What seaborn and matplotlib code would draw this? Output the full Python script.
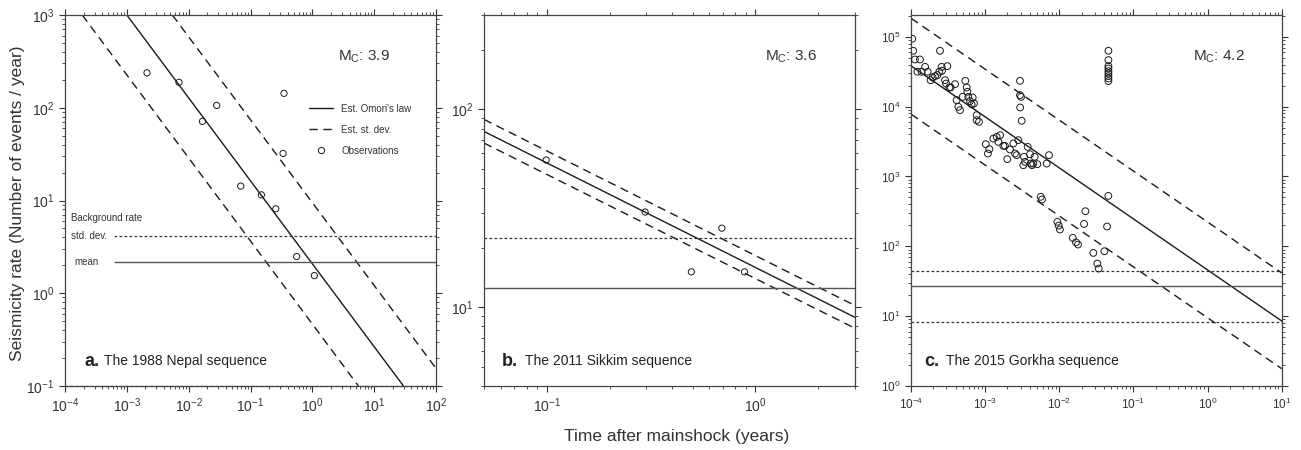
"""Omori-law decay of aftershock rates for three Himalayan sequences."""

import numpy as np
import pandas as pd
import matplotlib
matplotlib.use("Agg")
import matplotlib.pyplot as plt
from matplotlib.lines import Line2D
import seaborn as sns

# ---- panel a: 1988 Nepal ----
obs_t_a = [2.12e-3, 6.98e-3, 0.0167, 0.0284, 0.348, 0.336, 0.0695, 0.150, 0.256, 0.558, 1.077]
obs_rate_a = [238, 188, 71.3, 106, 143, 32.2, 14.3, 11.5, 8.13, 2.49, 1.55]
omori_t_a = [1e-3, 29.8]
omori_rate_a = [1000, 0.1]
sd_low_t_a = [1.9e-4, 5.57]
sd_low_rate_a = [1000, 0.1]
sd_high_t_a = [5.45e-3, 100]
sd_high_rate_a = [1000, 0.155]
bg_mean_a = 2.16
bg_std_a = [4.16, 0.1]
mc_a = "3.9"

# ---- panel b: 2011 Sikkim ----
obs_t_b = [0.0993, 0.296, 0.69, 0.493, 0.886]
obs_rate_b = [55.5, 30.3, 25.1, 15.1, 15.1]
omori_t_b = [0.05, 3.0]
omori_rate_b = [77.4, 8.89]
sd_high_rate_b = [89.0, 10.2]
sd_low_rate_b = [67.6, 7.83]
bg_mean_b = 12.5
bg_std_b = [22.4]
mc_b = "3.6"

# ---- panel c: 2015 Gorkha ----
obs_t_c = [
    1.04e-4, 1.07e-4, 1.13e-4, 1.32e-4, 1.22e-4, 1.39e-4, 1.55e-4, 1.68e-4, 1.84e-4, 1.96e-4,
    2.11e-4, 2.27e-4, 2.46e-4, 2.41e-4, 2.59e-4, 2.62e-4, 2.88e-4, 3.09e-4, 2.97e-4, 3.29e-4,
    3.43e-4, 3.93e-4, 4.13e-4, 4.35e-4, 4.58e-4, 4.98e-4, 5.40e-4, 5.64e-4, 5.75e-4, 5.93e-4,
    6.25e-4, 6.58e-4, 6.79e-4, 7.08e-4, 7.69e-4, 7.69e-4, 8.26e-4,
    2.95e-3, 2.95e-3, 3.05e-3, 2.97e-3, 3.11e-3,
    1.02e-3, 1.09e-3, 1.14e-3, 1.29e-3, 1.43e-3, 1.51e-3, 1.59e-3, 1.76e-3, 1.85e-3, 1.99e-3,
    2.16e-3, 2.40e-3, 2.53e-3, 2.66e-3, 2.80e-3, 3.27e-3, 3.34e-3, 3.45e-3, 3.75e-3, 4.03e-3,
    4.11e-3, 4.28e-3, 4.46e-3, 4.65e-3, 5.06e-3, 6.76e-3, 7.27e-3,
    5.61e-3, 5.85e-3, 9.42e-3, 9.82e-3, 1.02e-2, 1.52e-2, 1.68e-2, 1.79e-2, 2.16e-2, 2.25e-2,
    2.88e-2, 3.26e-2, 3.40e-2, 4.06e-2, 4.41e-2, 4.59e-2,
    0.046, 0.046, 0.046, 0.046, 0.046, 0.046, 0.046, 0.046, 0.046,
]
obs_rate_c = [
    9.36e4, 6.3e4, 4.73e4, 4.73e4, 3.16e4, 3.16e4, 3.71e4, 3.16e4, 2.39e4, 2.61e4,
    2.73e4, 2.83e4, 6.3e4, 3.16e4, 3.71e4, 3.26e4, 2.39e4, 3.8e4, 2.14e4, 1.88e4,
    1.88e4, 2.1e4, 1.24e4, 9.93e3, 8.9e3, 1.38e4, 2.34e4, 1.88e4, 1.63e4, 1.38e4,
    1.2e4, 1.08e4, 1.35e4, 1.11e4, 7.55e3, 6.4e3, 6.05e3,
    2.34e4, 1.46e4, 1.38e4, 9.72e3, 6.27e3,
    2.9e3, 2.13e3, 2.46e3, 3.49e3, 3.69e3, 3.13e3, 3.9e3, 2.74e3, 2.74e3, 1.77e3,
    2.43e3, 2.97e3, 2.13e3, 2.02e3, 3.31e3, 1.45e3, 1.91e3, 1.62e3, 2.65e3, 2.08e3,
    1.53e3, 1.45e3, 1.53e3, 1.91e3, 1.5e3, 1.53e3, 2.02e3,
    511, 468, 224, 198, 174, 132, 114, 106, 209, 318,
    80.4, 56.6, 48, 84.9, 192, 527,
    6.3e4, 4.64e4, 3.8e4, 3.52e4, 3.22e4, 2.98e4, 2.73e4, 2.53e4, 2.32e4,
]
omori_t_c = [1e-4, 10]
omori_rate_c = [3.84e4, 8.53]
sd_high_rate_c = [1.84e5, 41.6]
sd_low_rate_c = [7.8e3, 1.77]
bg_mean_c = 26.8
bg_std_c = [45.0, 8.19]
mc_c = "4.2"

FIG_W, FIG_H = 1301, 450
LINE = "#1a1a1a"
GREY = "#555555"
LONG_DASH = (6, 4)
SHORT_DASH = (2.2, 1.8)

sns.set_theme(style="ticks")
plt.rcParams["font.family"] = ["Liberation Sans", "DejaVu Sans"]
plt.rcParams["mathtext.fontset"] = "custom"
plt.rcParams["mathtext.rm"] = "Liberation Sans"
plt.rcParams["mathtext.it"] = "Liberation Sans:italic"
plt.rcParams["mathtext.bf"] = "Liberation Sans:bold"


def px_axes(fig, left, top, right, bottom):
    return fig.add_axes([left / FIG_W, 1 - bottom / FIG_H,
                         (right - left) / FIG_W, (bottom - top) / FIG_H])


def style_axes(ax, xlim, ylim, tick_size):
    ax.set_xscale("log")
    ax.set_yscale("log")
    ax.set_xlim(*xlim)
    ax.set_ylim(*ylim)
    for sp in ax.spines.values():
        sp.set_visible(True)
        sp.set_color("#444444")
        sp.set_linewidth(0.9)
    ax.tick_params(which="both", direction="out", top=True, right=True,
                   colors="#333333", labelsize=tick_size, labelcolor="#333333")
    ax.tick_params(which="major", length=4, width=0.8)
    ax.tick_params(which="minor", length=2.2, width=0.6)


def draw_fit(ax, t, rate, dashed=False):
    df = pd.DataFrame({"t": t, "rate": rate})
    sns.lineplot(data=df, x="t", y="rate", ax=ax, color=LINE, lw=1.0,
                 estimator=None, sort=False)
    if dashed:
        ax.lines[-1].set_dashes(LONG_DASH)


def draw_obs(ax, t, rate, size=20):
    sns.scatterplot(x=t, y=rate, ax=ax, marker="o", s=size,
                    facecolors="none", edgecolor=LINE, linewidth=0.7, zorder=3)


def label_panel(ax, letter, title, x_letter, x_title, mc, x_mc):
    ax.text(x_letter, 0.067, letter, transform=ax.transAxes, fontsize=13,
            fontweight="bold", va="center", ha="left", color="#222222")
    ax.text(x_title, 0.067, title, transform=ax.transAxes, fontsize=10,
            va="center", ha="left", color="#222222")
    ax.text(x_mc, 0.887, r"M$_\mathregular{C}$: " + mc, transform=ax.transAxes,
            fontsize=11, va="center", ha="left", color="#333333")
    ax.set_xlabel("")
    ax.set_ylabel("")


fig = plt.figure(figsize=(FIG_W / 100, FIG_H / 100), dpi=100)

# ---- a ----
ax_a = px_axes(fig, 65, 15, 436, 386)
style_axes(ax_a, (1e-4, 1e2), (1e-1, 1e3), 10)
draw_fit(ax_a, omori_t_a, omori_rate_a)
draw_fit(ax_a, sd_low_t_a, sd_low_rate_a, dashed=True)
draw_fit(ax_a, sd_high_t_a, sd_high_rate_a, dashed=True)
ax_a.hlines(bg_mean_a, 6.3e-4, 1e2, color=GREY, lw=1.0)
ax_a.hlines(bg_std_a[0], 6.3e-4, 1e2, color="#333333", lw=0.9, linestyles=(0, SHORT_DASH))
ax_a.hlines(bg_std_a[1], 1e-4, 1e2, color="#333333", lw=0.9,
            linestyles=(0, SHORT_DASH), clip_on=False)
draw_obs(ax_a, obs_t_a, obs_rate_a)
ax_a.text(0.0154, 0.453, "Background rate", transform=ax_a.transAxes,
          fontsize=7, va="center", color="#333333")
ax_a.text(0.0154, 0.404, "std. dev.", transform=ax_a.transAxes,
          fontsize=7, va="center", color="#333333")
ax_a.text(0.026, 0.334, "mean", transform=ax_a.transAxes,
          fontsize=7, va="center", color="#333333")
handles = [
    Line2D([], [], color=LINE, lw=1.0),
    Line2D([], [], color=LINE, lw=1.0, dashes=LONG_DASH),
    Line2D([], [], color=LINE, lw=0, marker="o", markersize=4.5,
           markerfacecolor="none", markeredgewidth=0.7),
]
ax_a.legend(handles, ["Est. Omori's law", "Est. st. dev.", "Observations"],
            loc="upper left", bbox_to_anchor=(0.635, 0.785), frameon=False,
            fontsize=7, handlelength=2.4, handletextpad=0.9, labelspacing=1.15,
            labelcolor="#333333")
label_panel(ax_a, "a.", "The 1988 Nepal sequence", 0.052, 0.106, mc_a, 0.736)

# ---- b ----
ax_b = px_axes(fig, 484, 15, 855, 386)
style_axes(ax_b, (0.05, 3.0), (4.0, 300.0), 10)
draw_fit(ax_b, omori_t_b, omori_rate_b)
draw_fit(ax_b, omori_t_b, sd_high_rate_b, dashed=True)
draw_fit(ax_b, omori_t_b, sd_low_rate_b, dashed=True)
ax_b.axhline(bg_mean_b, color=GREY, lw=1.0)
ax_b.axhline(bg_std_b[0], color="#333333", lw=0.9, ls=(0, SHORT_DASH))
draw_obs(ax_b, obs_t_b, obs_rate_b)
label_panel(ax_b, "b.", "The 2011 Sikkim sequence", 0.048, 0.1105, mc_b, 0.757)

# ---- c ----
ax_c = px_axes(fig, 911, 15, 1281.7, 386)
style_axes(ax_c, (1e-4, 1e1), (1.0, 2.05e5), 8.5)
draw_fit(ax_c, omori_t_c, omori_rate_c)
draw_fit(ax_c, omori_t_c, sd_high_rate_c, dashed=True)
draw_fit(ax_c, omori_t_c, sd_low_rate_c, dashed=True)
ax_c.axhline(bg_mean_c, color=GREY, lw=1.0)
for level in bg_std_c:
    ax_c.axhline(level, color="#333333", lw=0.9, ls=(0, SHORT_DASH))
draw_obs(ax_c, obs_t_c, obs_rate_c, size=24)
label_panel(ax_c, "c.", "The 2015 Gorkha sequence", 0.036, 0.094, mc_c, 0.761)

fig.text(0.0135, 0.548, "Seismicity rate (Number of events / year)", rotation=90,
         fontsize=12.5, va="center", ha="center", color="#333333")
fig.text(0.52, 0.03, "Time after mainshock (years)", fontsize=12.5,
         va="center", ha="center", color="#333333")

fig.savefig("out.png", dpi=100, facecolor="white")
